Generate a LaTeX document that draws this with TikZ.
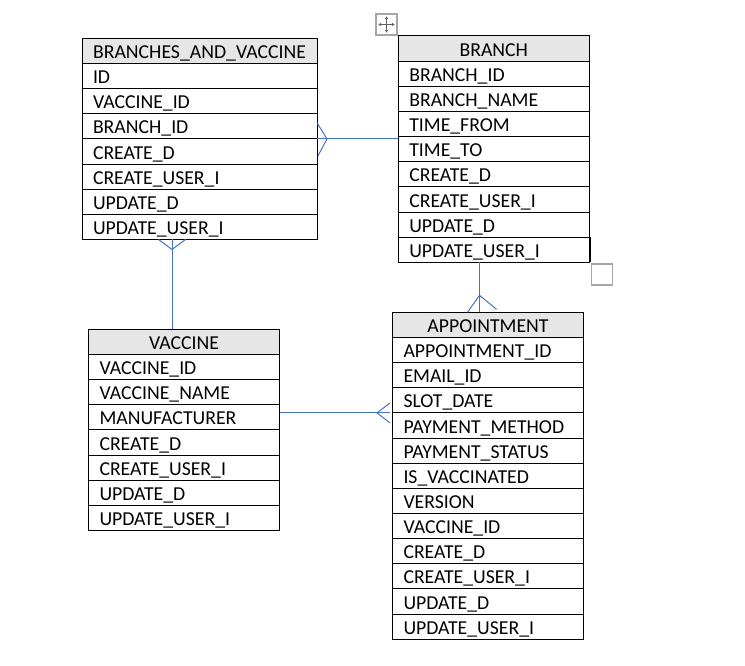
\documentclass[tikz,border=0pt]{standalone}
\usepackage{fontspec}
\setmainfont{Carlito}
\usetikzlibrary{
    positioning,
    calc,
    arrows.meta
}
\definecolor{hdrgray}{HTML}{E7E6E6}
\definecolor{linkblue}{HTML}{4472C4}
\definecolor{uigray}{HTML}{A6A6A6}
\definecolor{icongray}{HTML}{5F5F5F}
\tikzset{
    row/.style={draw, line width=0.75pt, outer sep=0pt, inner xsep=8.25pt, inner ysep=0pt,
        text width=#1, minimum height=18.86pt, text height=11.4pt, text depth=0pt, align=left,
        font=\fontsize{14.8}{17}\selectfont},
    head/.style={row=#1, fill=hdrgray, align=center},
    link/.style={draw=linkblue, line width=0.75pt}
}

\begin{document}
\begin{tikzpicture}[x=0.75pt, y=-0.75pt]
                        \useasboundingbox (0, 0) rectangle (745, 666);

                        % BRANCHES_AND_VACCINE
                        \node[head=159.75pt, anchor=north west] (bv0) at (82, 38.3) {BRANCHES\_AND\_VACCINE};
                        \foreach \f [count=\i, evaluate=\i as \j using int(\i-1)] in
                            {ID, VACCINE\_ID, BRANCH\_ID, CREATE\_D, CREATE\_USER\_I, UPDATE\_D, UPDATE\_USER\_I}
                            \node[row=159.75pt, below=0pt of bv\j] (bv\i) {\f};

                        % BRANCH
                        \node[head=126.75pt, anchor=north west] (br0) at (398.3, 36) {BRANCH};
                        \foreach \f [count=\i, evaluate=\i as \j using int(\i-1)] in
                            {BRANCH\_ID, BRANCH\_NAME, TIME\_FROM, TIME\_TO, CREATE\_D, CREATE\_USER\_I, UPDATE\_D, UPDATE\_USER\_I}
                            \node[row=126.75pt, below=0pt of br\j] (br\i) {\f};

                        % VACCINE
                        \node[head=126.75pt, anchor=north west] (vc0) at (88.5, 329.3) {VACCINE};
                        \foreach \f [count=\i, evaluate=\i as \j using int(\i-1)] in
                            {VACCINE\_ID, VACCINE\_NAME, MANUFACTURER, CREATE\_D, CREATE\_USER\_I, UPDATE\_D, UPDATE\_USER\_I}
                            \node[row=126.75pt, below=0pt of vc\j] (vc\i) {\f};

                        % APPOINTMENT
                        \node[head=126.75pt, anchor=north west] (ap0) at (392.5, 312.3) {APPOINTMENT};
                        \foreach \f [count=\i, evaluate=\i as \j using int(\i-1)] in
                            {APPOINTMENT\_ID, EMAIL\_ID, SLOT\_DATE, PAYMENT\_METHOD, PAYMENT\_STATUS, IS\_VACCINATED,
                             VERSION, VACCINE\_ID, CREATE\_D, CREATE\_USER\_I, UPDATE\_D, UPDATE\_USER\_I}
                            \node[row=126.75pt, below=0pt of ap\j] (ap\i) {\f};

                        % word handles
                        \node[draw=uigray, line width=1pt, minimum size=15.75pt, inner sep=0pt] (move) at (386.5, 24.5) {};
                        \draw[icongray, line width=0.9pt, {Stealth[length=2.2pt, width=2.6pt]}-{Stealth[length=2.2pt, width=2.6pt]}]
                            ($(move.west)+(3, 0)$) -- ($(move.east)+(-3, 0)$);
                        \draw[icongray, line width=0.9pt, {Stealth[length=2.2pt, width=2.6pt]}-{Stealth[length=2.2pt, width=2.6pt]}]
                            ($(move.north)+(0, 3)$) -- ($(move.south)+(0, -3)$);
                        \node[draw=uigray, line width=1pt, minimum size=15.75pt, inner sep=0pt, anchor=north west] (grip)
                            at ($(br8.south east)+(1.4, 1)$) {};
                        \draw[line width=0.75pt] ($(br8.north east)+(1.4, 0)$) -- ($(br8.south east)+(1.4, 0)$);

                        % links
                        \coordinate (bvr) at (bv3.south east);
                        \draw[link] (bvr) -- (bvr -| br0.west);
                        \draw[link] ($(bvr)+(0, -16)$) -- ($(bvr)+(10, 0)$) -- ($(bvr)+(1, 17)$);

                        \coordinate (bvb) at ($(bv7.south west)+(90, 0)$);
                        \draw[link] (bvb) -- (bvb |- vc0.north);
                        \draw[link] ($(bvb)+(-13.5, 0)$) -- ($(bvb)+(0, 10)$) -- ($(bvb)+(13.5, 0)$);

                        \coordinate (apt) at ($(ap0.north west)+(87, 0)$);
                        \draw[link] (apt |- br8.south) -- (apt);
                        \draw[link] ($(apt)+(-12, 0)$) -- ($(apt)+(0, -17)$) -- ($(apt)+(17, -3)$);

                        \coordinate (apl) at ($(ap3.south west)+(-2.5, 0)$);
                        \draw[link] (apl -| vc3.east) -- (apl);
                        \draw[link] ($(apl)+(0, -10)$) -- ($(apl)+(-13, 0)$) -- ($(apl)+(0, 10)$);
                    \end{tikzpicture}
\end{document}
